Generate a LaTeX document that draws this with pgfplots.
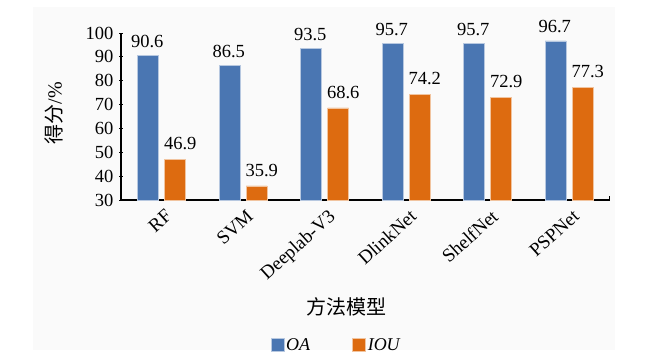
\documentclass[border=0pt]{standalone}
\usepackage{fontspec}
\setmainfont{Liberation Serif}
\newfontfamily\cjk{Noto Sans CJK SC}
\usepackage{pgfplots}
\pgfplotsset{compat=1.18}
\definecolor{oablue}{HTML}{4A76B2}
\definecolor{iouorange}{HTML}{DD6B10}
\begin{document}
\begin{tikzpicture}
\path[use as bounding box] (0,0) rectangle (654pt,357pt);
\fill[black!2] (33pt,7pt) rectangle (615pt,350pt);
\begin{axis}[
  at={(121pt,157pt)}, anchor=south west, scale only axis,
  width=489pt, height=167pt,
  ymin=30, ymax=100, ytick={30,40,...,100},
  xmin=-0.5, xmax=5.5,
  xtick={0,...,5},
  xticklabels={RF,SVM,Deeplab-V3,DlinkNet,ShelfNet,PSPNet},
  axis x line*=bottom, axis y line*=left,
  axis line style={line width=1.2pt, -},
  xtick style={draw=none},
  ytick style={line width=1pt, black},
  major tick length=4pt, tick align=center,
  /pgf/number format/assume math mode=true,
  ybar=6pt, bar width=21pt,
  yticklabel style={font=\fontsize{18.5}{20}\selectfont, xshift=-2pt},
  xticklabel style={rotate=42, anchor=north east, inner sep=1pt, yshift=-4pt, font=\fontsize{19}{22}\selectfont},
  nodes near coords,
  nodes near coords style={font=\fontsize{18.5}{20}\selectfont, /pgf/number format/fixed, /pgf/number format/fixed zerofill, /pgf/number format/precision=1},
  clip=false,
  legend columns=2,
  legend style={at={(0.44,-0.868)}, anchor=center, draw=none, fill=none,
    font=\fontsize{18}{20}\selectfont\itshape,
    /tikz/every even column/.append style={column sep=40pt}},
  legend image code/.code={\fill[#1] (0pt,-6pt) rectangle (13pt,6.5pt);},
]
\addplot[fill=oablue, draw=white!60!oablue, line width=0.6pt,
  every node near coord/.append style={xshift=-1pt, yshift=4pt, text=black}]
  coordinates {(0,90.6) (1,86.5) (2,93.5) (3,95.7) (4,95.7) (5,96.7)};
\addplot[fill=iouorange, draw=white!60!iouorange, line width=0.6pt,
  every node near coord/.append style={xshift=5pt, yshift=6pt, text=black}]
  coordinates {(0,46.9) (1,35.9) (2,68.6) (3,74.2) (4,72.9) (5,77.3)};
\legend{OA,IOU}
\coordinate (E) at (axis cs:5.5,30);
\end{axis}
\draw[line width=1pt] (E) -- ++(0,4pt);
\node[font=\cjk\fontsize{20}{22}\selectfont] at (346pt,50pt) {方法模型};
\node[rotate=90, font=\fontsize{20}{22}\selectfont] at (54pt,244pt) {{\cjk 得分}/\%};
\end{tikzpicture}
\end{document}
